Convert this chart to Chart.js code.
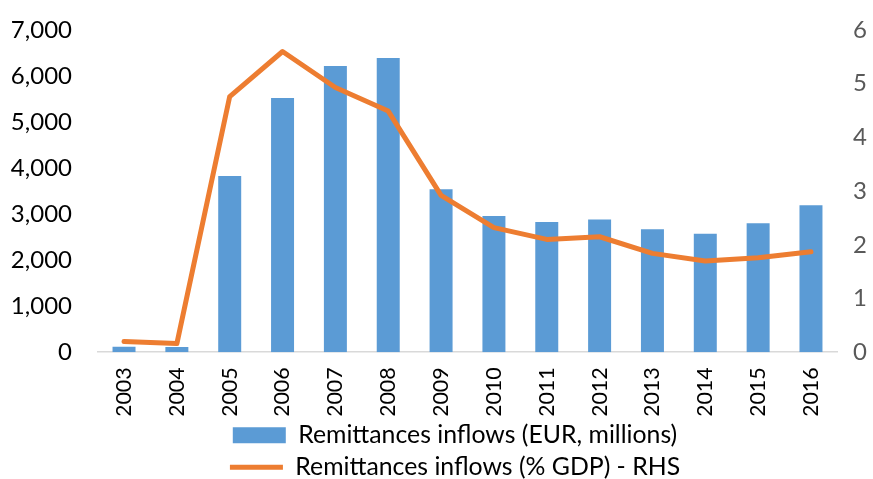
<!DOCTYPE html>
<html>
<head>
<meta charset="utf-8">
<script src="https://cdn.jsdelivr.net/npm/chart.js@4"></script>
<style>
  html, body { margin: 0; padding: 0; background: #fff; overflow: hidden; }
  #wrap { width: 873px; height: 479px; overflow: hidden; position: relative; }
  #box { position: absolute; left: 0; top: 0; width: 900px; height: 492px; }
</style>
</head>
<body>
<div id="wrap"><div id="box"><canvas id="remitChart" width="900" height="492"></canvas></div></div>
<script>
// --- Data ---
const years = ['2003', '2004', '2005', '2006', '2007', '2008', '2009', '2010', '2011', '2012', '2013', '2014', '2015', '2016'];
const inflowsEur = [120, 115, 3830, 5520, 6220, 6390, 3540, 2960, 2830, 2885, 2670, 2575, 2800, 3195];
const inflowsGdp = [0.20, 0.16, 4.76, 5.60, 4.93, 4.49, 2.92, 2.32, 2.10, 2.15, 1.84, 1.70, 1.76, 1.87];
const leftTicks = [0, 1000, 2000, 3000, 4000, 5000, 6000, 7000];
const rightTicks = [0, 1, 2, 3, 4, 5, 6];

const barLabel = 'Remittances inflows (EUR, millions)';
const lineLabel = 'Remittances inflows (% GDP) - RHS';

const blue = '#5B9BD5';
const orange = '#ED7D31';
const fontFamily = 'Lato, "Open Sans", sans-serif';

// keep the big tick padding from pushing the plot area down
function fixAxisBox(width) {
    return s => {
        s.width = width;
        s.paddingTop = 10;
        s.paddingBottom = 10;
    };
}

const ctx = document.getElementById('remitChart');

new Chart(ctx, {
    data: {
        labels: years,
        datasets: [
            {
                type: 'bar',
                label: barLabel,
                data: inflowsEur,
                yAxisID: 'y',
                backgroundColor: blue,
                borderWidth: 0,
                barPercentage: 0.435,
                categoryPercentage: 1,
                pointStyle: 'rect',
                order: 2
            },
            {
                type: 'line',
                label: lineLabel,
                data: inflowsGdp,
                yAxisID: 'y2',
                borderColor: orange,
                backgroundColor: orange,
                borderWidth: 5,
                borderJoinStyle: 'round',
                borderCapStyle: 'round',
                pointRadius: 0,
                pointStyle: 'line',
                tension: 0,
                order: 1
            }
        ]
    },
    options: {
        responsive: false,
        animation: false,
        layout: { padding: { left: 10, right: 0, top: 30, bottom: 2.4 } },
        plugins: {
            tooltip: { enabled: false },
            legend: {
                position: 'bottom',
                labels: {
                    usePointStyle: true,
                    pointStyleWidth: 53,
                    boxHeight: 16,
                    padding: 7.2,
                    color: '#000',
                    font: { family: fontFamily, size: 24.8 },
                    sort: (a, b) => a.datasetIndex - b.datasetIndex
                }
            }
        },
        scales: {
            x: {
                grid: { display: false, drawTicks: false },
                border: { display: true, color: '#D9D9D9', width: 1.5 },
                ticks: {
                    color: '#000',
                    minRotation: 90,
                    maxRotation: 90,
                    padding: 15,
                    font: { family: fontFamily, size: 21.5 }
                },
                afterFit: s => { s.height = 63.4; }
            },
            y: {
                position: 'left',
                min: 0,
                max: 7000,
                grid: { display: false, drawTicks: false },
                border: { display: false },
                afterBuildTicks: s => { s.ticks = leftTicks.map(v => ({ value: v })); },
                ticks: {
                    color: '#000',
                    padding: 25.6,
                    font: { family: fontFamily, size: 24 },
                    callback: v => v.toLocaleString('en-US')
                },
                afterFit: fixAxisBox(87.6)
            },
            y2: {
                position: 'right',
                min: 0,
                max: 6,
                grid: { display: false, drawTicks: false },
                border: { display: false },
                afterBuildTicks: s => { s.ticks = rightTicks.map(v => ({ value: v })); },
                ticks: {
                    color: '#595959',
                    padding: 15.6,
                    font: { family: fontFamily, size: 24 }
                },
                afterFit: fixAxisBox(62.6)
            }
        }
    }
});
</script>
</body>
</html>
